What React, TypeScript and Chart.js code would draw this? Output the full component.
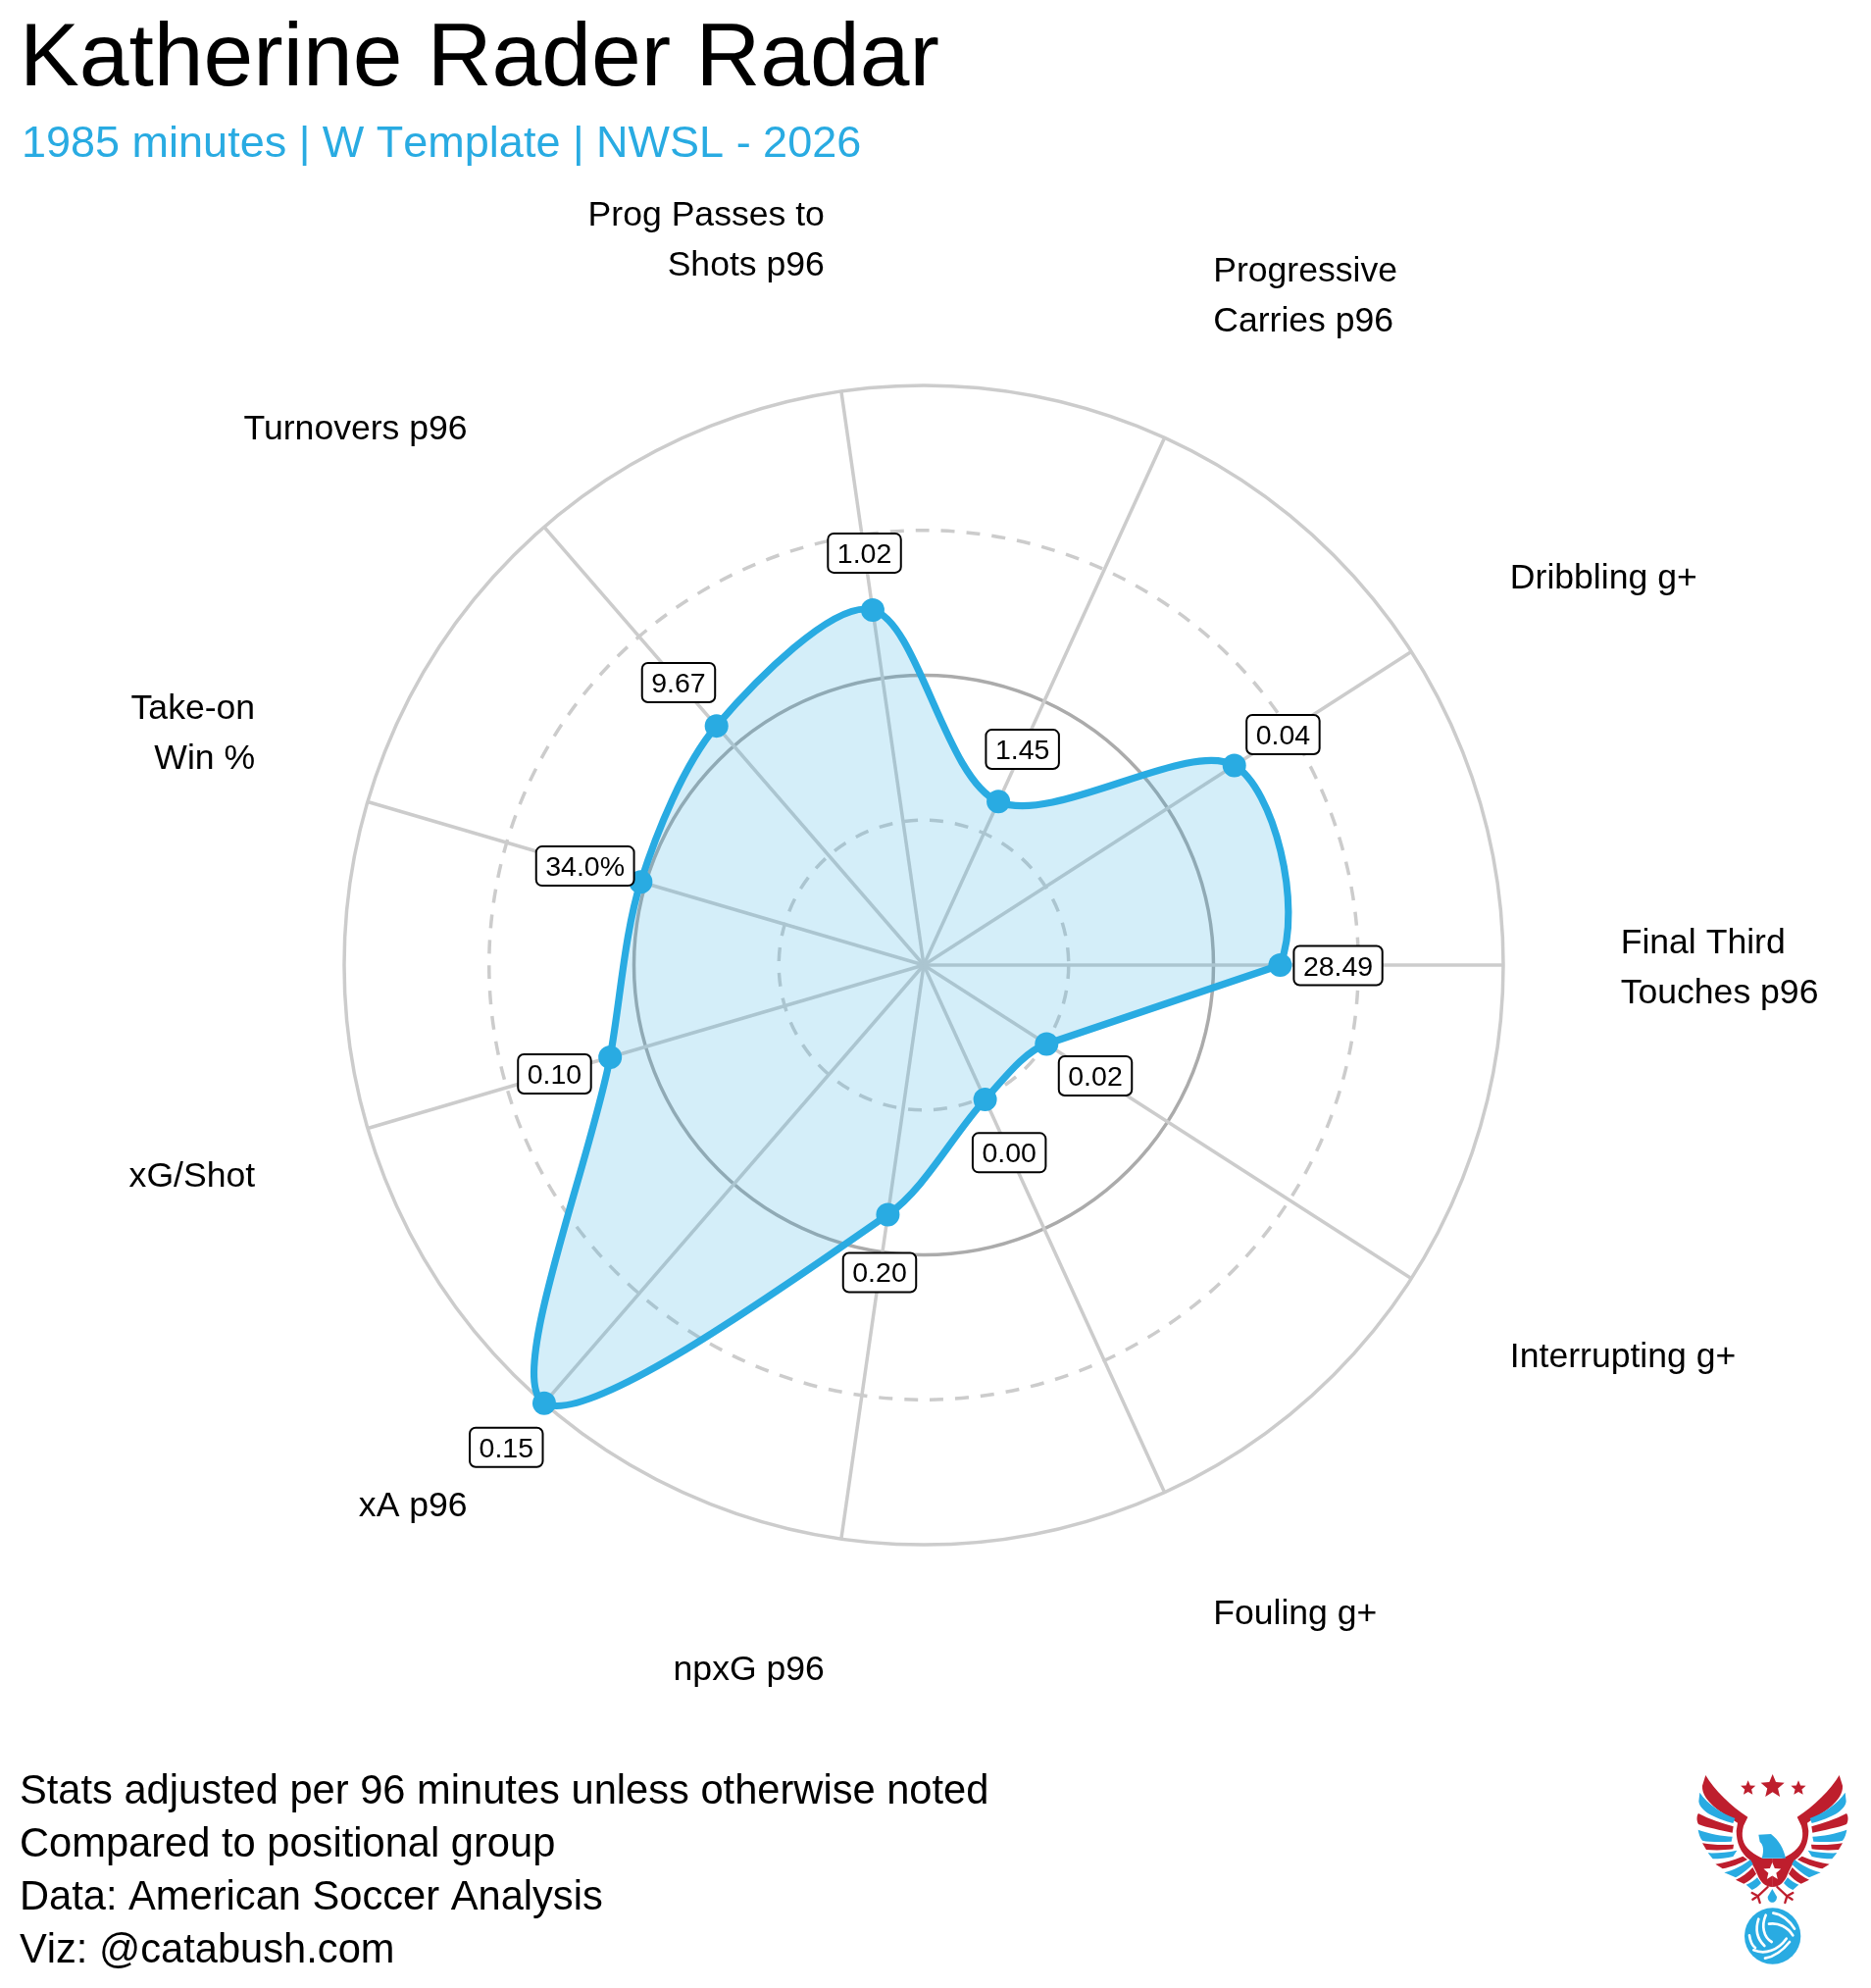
import React, { useEffect, useRef } from "react";
import { Chart, registerables } from "chart.js";

Chart.register(...registerables);

const titleText = "Katherine Rader Radar";
const subtitleText = "1985 minutes | W Template | NWSL - 2026";
const footerLines = [
  "Stats adjusted per 96 minutes unless otherwise noted",
  "Compared to positional group",
  "Data: American Soccer Analysis",
  "Viz: @catabush.com",
];

const categories = [
  ["Final Third", "Touches p96"],
  ["Interrupting g+"],
  ["Fouling g+"],
  ["npxG p96"],
  ["xA p96"],
  ["xG/Shot"],
  ["Take-on", "Win %"],
  ["Turnovers p96"],
  ["Prog Passes to", "Shots p96"],
  ["Progressive", "Carries p96"],
  ["Dribbling g+"],
];
const percentiles = [61.5, 25.2, 25.5, 43.5, 100, 56.4, 50.9, 54.6, 61.9, 31, 63.7];
const rawValues = ["28.49", "0.02", "0.00", "0.20", "0.15", "0.10", "34.0%", "9.67", "1.02", "1.45", "0.04"];
const ringTicks = [25, 50, 75, 100];
const labelNudgeY = [1, 5, 0, -1, 1.5, 9, -8.5, -0.5, 2, 1.5, -4];

const BLUE = "#29ABE2";
const FONT = '"Liberation Sans", Arial, Helvetica, sans-serif';
const CX = 942;
const CY = 984;
const R = 591;

const splineCorner = {
  id: "splineCorner",
  beforeDatasetsDraw(chart: any) {
    const line = chart.getDatasetMeta(0).dataset;
    line.updateControlPoints(chart.chartArea);
    const pts = line.points;
    const p0 = pts[0];
    const p1 = pts[1];
    const pl = pts[pts.length - 1];
    // the curve starts and ends at the first spoke, so it has a corner there
    p0.cp2x = p0.x + (p1.x - p0.x) * 0.33;
    p0.cp2y = p0.y + (p1.y - p0.y) * 0.33;
    p0.cp1x = p0.x + (pl.x - p0.x) * 0.3 + 38;
    p0.cp1y = p0.y + (pl.y - p0.y) * 0.3;
    // nearly straight run from the first spoke to the second
    p1.cp1x = p1.x + (p0.x - p1.x) * 0.33;
    p1.cp1y = p1.y + (p0.y - p1.y) * 0.33;
    const len = Math.hypot(p0.x - p1.x, p0.y - p1.y);
    const out = Math.hypot(p1.cp2x - p1.x, p1.cp2y - p1.y);
    p1.cp2x = p1.x + ((p1.x - p0.x) / len) * out;
    p1.cp2y = p1.y + ((p1.y - p0.y) / len) * out;
  },
};

const textLabels = {
  id: "textLabels",
  afterDatasetsDraw(chart: any) {
    const { ctx } = chart;
    const scale = chart.scales.r;
    ctx.save();
    // axis names
    ctx.font = `35.6px ${FONT}`;
    ctx.fillStyle = "#000";
    ctx.textBaseline = "alphabetic";
    const dist = R * 1.227;
    categories.forEach((lines, i) => {
      const p = scale.getPointPosition(i, dist);
      const x = scale.xCenter + (p.x - scale.xCenter) * 0.98;
      const y = p.y + labelNudgeY[i];
      const right = i >= 3 && i <= 8;
      ctx.textAlign = right ? "right" : "left";
      const lh = 51;
      // multi-line names grow upward from the anchor, except the horizontal one
      const lastBase = i === 0 ? y + lh / 2 + 12.5 : y + 12.5;
      lines.forEach((t, k) => {
        ctx.fillText(t, x, lastBase - (lines.length - 1 - k) * lh);
      });
    });
    // value boxes
    ctx.font = `28.5px ${FONT}`;
    rawValues.forEach((t, i) => {
      const d = scale.getDistanceFromCenterForValue(percentiles[i] + 10);
      const p = scale.getPointPosition(i, d);
      const w = ctx.measureText(t).width + 19;
      const h = 40;
      const y = p.y + 0.5;
      ctx.beginPath();
      ctx.roundRect(p.x - w / 2, y - h / 2, w, h, 6);
      ctx.fillStyle = "#fff";
      ctx.fill();
      ctx.lineWidth = 2;
      ctx.strokeStyle = "#000";
      ctx.stroke();
      ctx.fillStyle = "#000";
      ctx.textAlign = "center";
      ctx.fillText(t, p.x, y + 10);
    });
    ctx.restore();
  },
};

function Star({ x, y, r, fill }: { x: number; y: number; r: number; fill: string }) {
  const pts: string[] = [];
  for (let i = 0; i < 10; i++) {
    const a = -Math.PI / 2 + (i * Math.PI) / 5;
    const q = i % 2 ? r * 0.45 : r;
    pts.push(`${x + q * Math.cos(a)},${y + q * Math.sin(a)}`);
  }
  return <polygon points={pts.join(" ")} fill={fill} />;
}

const RED = "#BE1E2D";
function HalfEagle() {
  return (
    <g>
      <path fill={RED} d="M268,90 C295,135 345,185 397,218 L384,245 C376,275 380,300 405,322 C420,335 432,340 445,345 L473,345 L473,432 C450,432 435,415 427,395 C420,380 412,362 402,348 C375,328 362,295 362,260 L366,236 C320,205 255,170 258,122 Z" />
      <path fill={BLUE} d="M250,143 C275,180 320,208 358,222 L352,237 C310,225 252,205 247,170 Z" />
      <path fill={RED} d="M246,207 C280,225 320,238 353,247 L350,266 C315,258 270,250 246,240 C240,230 240,215 246,207 Z" />
      <path fill={BLUE} d="M245,257 C280,270 320,276 350,278 L347,293 C315,295 280,295 258,290 C250,280 247,268 245,257 Z" />
      <path fill={RED} d="M258,298 C290,304 325,304 354,302 L352,316 C325,320 295,320 270,318 Z" />
      <path fill={BLUE} d="M275,328 C305,329 335,326 364,320 L352,339 C335,343 310,346 290,346 Z" />
      <path fill={RED} d="M298,362 C325,358 355,350 382,338 L396,348 C375,360 345,372 320,376 Z" />
      <path fill={BLUE} d="M325,388 C355,380 385,365 405,348 L413,362 C395,380 375,395 360,403 Z" />
      <path fill={RED} d="M360,410 C380,402 398,388 412,372 L423,392 C412,405 400,415 385,422 Z" />
      <path fill={BLUE} d="M392,425 C405,420 417,412 426,403 L438,420 C430,430 420,437 410,441 Z" />
      <path stroke={RED} strokeWidth="7" fill="none" strokeLinecap="round" d="M458,432 L428,460 M428,460 L410,450 M428,460 L412,470 M428,460 L434,480" />
    </g>
  );
}

function Logo() {
  return (
    <svg
      viewBox="0 0 774 741"
      width={258}
      height={247}
      style={{ position: "absolute", left: 1650, top: 1780, filter: "blur(0.5px)" }}
    >
      <Star x={473} y={125} r={38} fill={RED} />
      <Star x={398} y={130} r={24} fill={RED} />
      <Star x={552} y={130} r={24} fill={RED} />
      <HalfEagle />
      <g transform="translate(945,0) scale(-1,1)">
        <HalfEagle />
      </g>
      <path fill={BLUE} d="M430,272 L468,270 C492,288 507,316 513,344 L440,344 C447,322 445,302 434,294 Z" />
      <Star x={472} y={385} r={28} fill="#fff" />
      <path fill={BLUE} d="M472,438 L486,462 C486,485 458,485 458,462 Z" />
      <circle cx={473} cy={582} r={86} fill={BLUE} />
      <g stroke="#fff" strokeWidth={8} fill="none" strokeLinecap="round">
        <path d="M430,530 C420,560 425,590 448,612" />
        <path d="M452,518 C438,550 445,585 470,600" />
        <path d="M475,512 C500,515 525,535 540,560" />
        <path d="M462,545 C490,540 520,555 535,580" />
        <path d="M415,625 C450,640 490,625 515,590" />
        <path d="M450,650 C480,645 505,625 525,600" />
        <path d="M402,580 C405,600 412,612 420,618" />
      </g>
    </svg>
  );
}

const abs = (left: number, baseline: number, size: number, color: string): React.CSSProperties => {
  const lh = Math.round(size * 1.2);
  const top = baseline - ((lh - 1.117 * size) / 2 + 0.905 * size);
  return {
    position: "absolute",
    left,
    top,
    fontFamily: FONT,
    fontKerning: "none",
    fontSize: size,
    lineHeight: `${lh}px`,
    color,
    whiteSpace: "nowrap",
    margin: 0,
  };
};

export default function App() {
  const ref = useRef<HTMLCanvasElement | null>(null);
  useEffect(() => {
    const chart = new Chart(ref.current as HTMLCanvasElement, {
      type: "radar",
      data: {
        labels: categories as any,
        datasets: [
          {
            data: percentiles,
            borderColor: BLUE,
            backgroundColor: "rgba(41,171,226,0.2)",
            borderWidth: 7.2,
            fill: true,
            tension: 0.3,
            capBezierPoints: false,
            clip: false,
            pointRadius: 12,
            pointHoverRadius: 12,
            pointBorderWidth: 0,
            pointBackgroundColor: BLUE,
          } as any,
        ],
      },
      options: {
        animation: false,
        responsive: false,
        devicePixelRatio: 1,
        layout: {
          padding: { left: CX - R, right: 1908 - CX - R, top: CY - R, bottom: 2027 - CY - R },
        },
        plugins: { legend: { display: false }, title: { display: false }, tooltip: { enabled: false } },
        scales: {
          r: {
            min: 0,
            max: 100,
            startAngle: 90,
            afterBuildTicks: (s: any) => {
              s.ticks = [0, ...ringTicks].map((value) => ({ value }));
            },
            ticks: { display: false },
            pointLabels: { display: false },
            angleLines: { display: true, color: "#CCCCCC", lineWidth: 3.5 },
            grid: {
              circular: true,
              lineWidth: 3.5,
              color: (c: any) => (c.tick && c.tick.value === 50 ? "#ABABAB" : "#CCCCCC"),
            },
            border: {
              dash: (c: any) => (c.tick && (c.tick.value === 25 || c.tick.value === 75) ? [14, 12] : []),
            },
          },
        },
      } as any,
      plugins: [splineCorner, textLabels],
    });
    return () => chart.destroy();
  }, []);

  return (
    <div style={{ position: "absolute", left: 0, top: 0, width: 1908, height: 2027, overflow: "hidden", background: "#fff" }}>
      <canvas ref={ref} width={1908} height={2027} style={{ position: "absolute", left: 0, top: 0, width: 1908, height: 2027 }} />
      <div style={abs(20, 87.5, 91.2, "#000")}>{titleText}</div>
      <div style={abs(22, 160.5, 45, BLUE)}>{subtitleText}</div>
      {footerLines.map((t, i) => (
        <div key={t} style={abs(20, 1839.8 + i * 53.8, 41.65, "#000")}>
          {t}
        </div>
      ))}
      <Logo />
    </div>
  );
}
